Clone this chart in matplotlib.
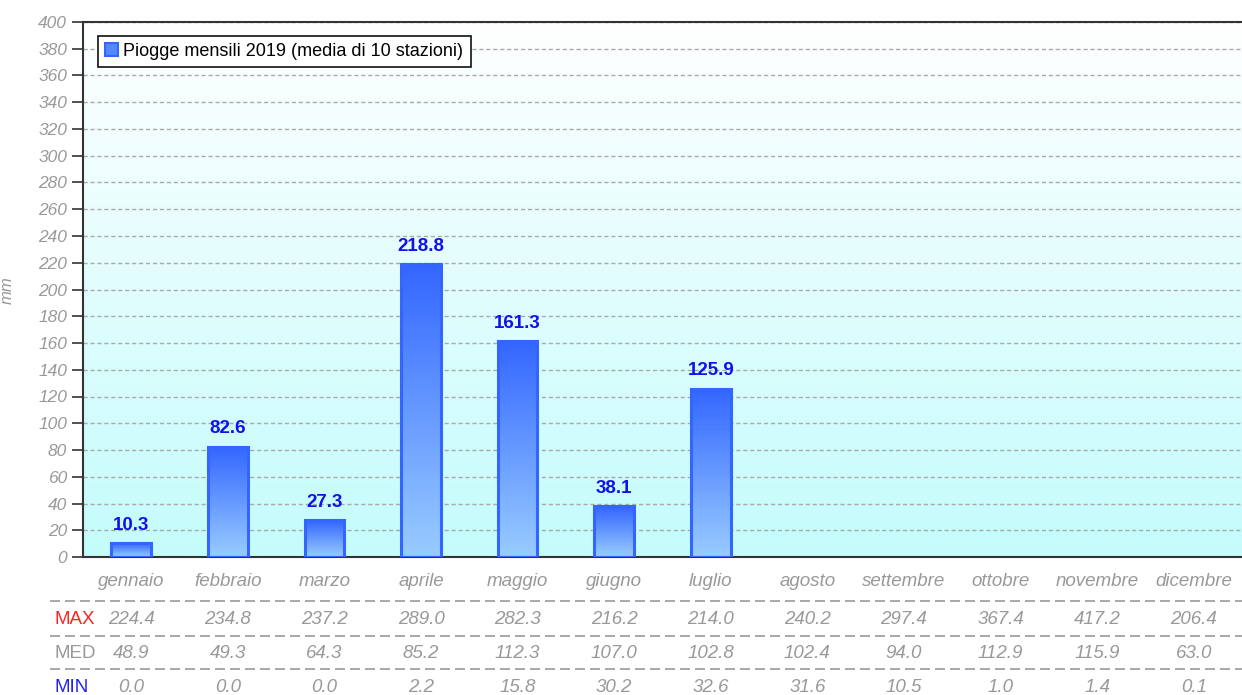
import numpy as np
import matplotlib
matplotlib.use("Agg")
import matplotlib.pyplot as plt
from matplotlib.patches import Patch
from matplotlib.colors import LinearSegmentedColormap

plt.rcParams['font.family'] = ['Liberation Sans', 'DejaVu Sans']

mesi = ["gennaio", "febbraio", "marzo", "aprile", "maggio", "giugno",
        "luglio", "agosto", "settembre", "ottobre", "novembre", "dicembre"]
pioggia_2019 = [10.3, 82.6, 27.3, 218.8, 161.3, 38.1, 125.9]
valori_max = [224.4, 234.8, 237.2, 289.0, 282.3, 216.2, 214.0, 240.2, 297.4, 367.4, 417.2, 206.4]
valori_med = [48.9, 49.3, 64.3, 85.2, 112.3, 107.0, 102.8, 102.4, 94.0, 112.9, 115.9, 63.0]
valori_min = [0.0, 0.0, 0.0, 2.2, 15.8, 30.2, 32.6, 31.6, 10.5, 1.0, 1.4, 0.1]

grigio = "#999999"

fig = plt.figure(figsize=(12.42, 6.95), dpi=100)
ax = fig.add_axes([83 / 1242, 1 - 557 / 695, 1 - 83 / 1242, 535 / 695])

x = np.arange(len(mesi))

# sfondo sfumato
sfondo = LinearSegmentedColormap.from_list("sfondo", ["#c4fcfc", "#ffffff"])
grad = np.linspace(0, 1, 256).reshape(-1, 1)
ax.imshow(grad, cmap=sfondo, aspect="auto", origin="lower",
          extent=[0, 1, 0, 1], transform=ax.transAxes, zorder=0)

ax.set_yticks(np.arange(0, 401, 20))
ax.grid(axis="y", color="#aaaaaa", linestyle=(0, (3, 2)), linewidth=1, zorder=1)
ax.set_xticks([])

# barre con sfumatura
barre_cmap = LinearSegmentedColormap.from_list("barre", ["#99ccff", "#3366ff"])
larghezza = 0.41
barre = ax.bar(x[:len(pioggia_2019)], pioggia_2019, width=larghezza,
               facecolor="none", edgecolor="#3366ff", linewidth=2.2, zorder=3)
for b, v in zip(barre, pioggia_2019):
    x0 = b.get_x()
    ax.imshow(grad, cmap=barre_cmap, aspect="auto", origin="lower",
              extent=[x0, x0 + b.get_width(), 0, v], zorder=2)
    ax.text(b.get_x() + b.get_width() / 2, v + 7, f"{v:.1f}", ha="center",
            va="bottom", color="#1111ee", fontsize=13.5, fontweight="bold", zorder=4)
ax.set_xlim(-0.5, len(mesi) - 0.5)
ax.set_ylim(0, 400)

for s in ["left", "bottom", "top"]:
    ax.spines[s].set_color("#333333")
    ax.spines[s].set_linewidth(1.5)
ax.spines["right"].set_visible(False)
ax.tick_params(axis="y", direction="out", length=8, width=1.2, color="#333333",
               labelcolor=grigio, labelsize=12.5)
for t in ax.get_yticklabels():
    t.set_fontstyle("italic")
ax.set_ylabel("mm", color=grigio, fontstyle="italic", fontsize=12)
ax.yaxis.set_label_coords(-68 / 1159, (557 - 290) / 535)

legenda = ax.legend(handles=[Patch(facecolor="#5588ff", edgecolor="#3366ff", linewidth=1.5)],
                    labels=["Piogge mensili 2019 (media di 10 stazioni)"],
                    loc="upper left", bbox_to_anchor=(0.013, 0.974), borderaxespad=0,
                    fancybox=False, framealpha=1, facecolor="white", edgecolor="#111111",
                    fontsize=13, handlelength=0.7, handleheight=0.7, handletextpad=0.3,
                    borderpad=0.4)
legenda.get_frame().set_linewidth(1.2)

# tabella sotto il grafico
tr = ax.get_xaxis_transform()
def y_ax(py):
    return (557 - py) / 535

for i, m in enumerate(mesi):
    ax.text(i, y_ax(582), m, transform=tr, ha="center", va="center", color=grigio,
            fontsize=13.5, fontstyle="italic", clip_on=False)

righe = [("MAX", "#ff2222", valori_max, 619),
         ("MED", grigio, valori_med, 654),
         ("MIN", "#2222ee", valori_min, 687)]
for nome, col, valori, py in righe:
    fig.text(54 / 1242, 1 - py / 695, nome, color=col, fontsize=13.5, ha="left", va="center")
    for i, v in enumerate(valori):
        ax.text(i, y_ax(py), f"{v:.1f}", transform=tr, ha="center", va="center",
                color=grigio, fontsize=13.5, fontstyle="italic", clip_on=False)

for py in [601, 636, 669]:
    fig.add_artist(plt.Line2D([50 / 1242, 1], [1 - py / 695] * 2, color=grigio,
                              linestyle=(0, (6, 3)), linewidth=1.2))

fig.savefig("out.png", dpi=100)
